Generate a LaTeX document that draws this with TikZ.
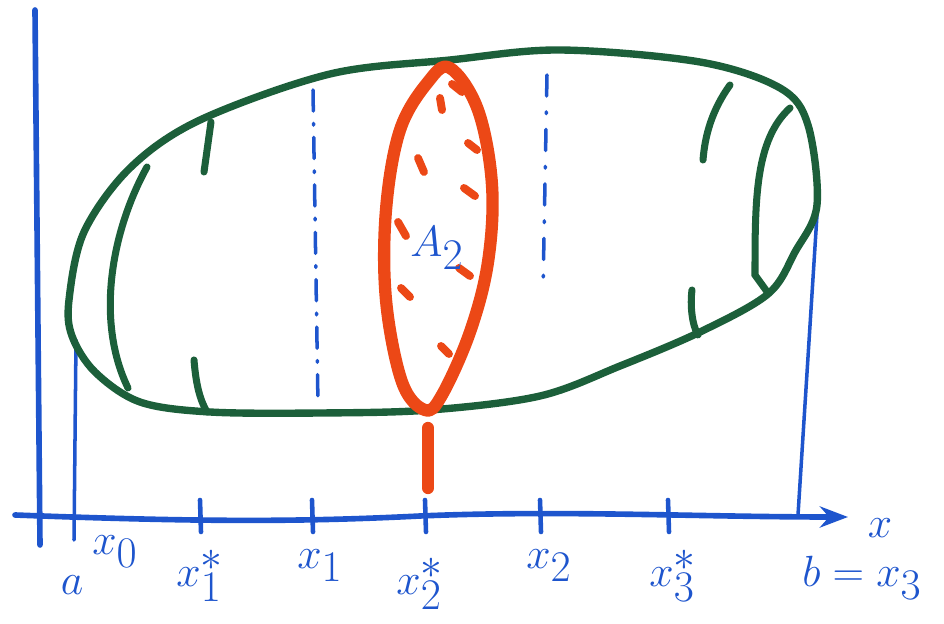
\documentclass[tikz,border=0pt]{standalone}
\usetikzlibrary{arrows.meta}
\definecolor{pen}{RGB}{30,85,205}
\definecolor{leaf}{RGB}{28,95,58}
\definecolor{flame}{RGB}{236,72,22}
\tikzset{
  outline/.style={draw=leaf,line width=4.2pt,line cap=round,line join=round},
  hidden/.style={draw=leaf,line width=4pt,line cap=round},
  slice/.style={draw=flame,line width=7pt,line cap=round,line join=round},
  hatch/.style={draw=flame,line width=4.5pt,line cap=round},
  axis/.style={draw=pen,line width=3.2pt,line cap=round},
  thin/.style={draw=pen,line width=2pt,line cap=round},
  tick/.style={draw=pen,line width=2.6pt,line cap=round},
  lbl/.style={text=pen,font=\fontsize{34}{38}\selectfont,inner sep=0pt}
}
\begin{document}
\begin{tikzpicture}[x=0.02cm,y=-0.02cm]
\useasboundingbox (0,0) rectangle (944,624);
% axes
\draw[axis] (35,10) -- (40,545);
\draw[axis,-{Stealth[length=16pt,width=12pt]}] (15,515) .. controls (200,522) and (300,522) .. (420,516) .. controls (560,510) and (700,517) .. (848,517);
% a and b verticals
\draw[thin] (76,340) -- (74,540);
\draw[thin] (817,215) -- (798,515);
% ticks
\foreach \x in {200,312,425,540,668} \draw[tick] (\x,500) -- (\x+1,532);
% green outline
\draw[outline] plot[smooth cycle,tension=0.55] coordinates {
 (69,300) (84,232) (130,168) (200,120) (330,74) (450,60) (560,50) (700,62) (780,88)
 (808,125) (817,205) (795,252) (768,294) (700,332) (620,366) (540,396) (430,410)
 (320,413) (210,412) (140,402) (95,372) (72,336)};
% hidden curves
\draw[hidden] (147,167) .. controls (112,230) and (95,320) .. (128,388);
\draw[hidden] (211,122) -- (204,172);
\draw[hidden] (194,360) .. controls (196,385) and (200,400) .. (207,412);
\draw[hidden] (790,108) .. controls (755,140) and (755,200) .. (755,275) -- (768,293);
\draw[hidden] (730,85) .. controls (712,110) and (705,135) .. (703,160);
\draw[hidden] (692,290) .. controls (690,305) and (692,325) .. (698,335);
% dashed dividers
\draw[thin,dash pattern=on 12pt off 7pt on 1pt off 7pt] (313,90) -- (318,405);
\draw[thin,dash pattern=on 12pt off 9pt on 1pt off 9pt] (547,75) -- (543,290);
% red slice
\draw[slice] plot[smooth cycle,tension=0.6] coordinates {
 (450,68) (478,110) (492,185) (488,262) (470,332) (442,395) (425,410)
 (402,382) (386,300) (386,210) (400,130) (428,82)};
\draw[slice] (428,428) -- (428,488);
\draw[hatch] (452,84) -- (462,92);
\draw[hatch] (440,98) -- (442,110);
\draw[hatch] (468,143) -- (477,150);
\draw[hatch] (418,158) -- (424,172);
\draw[hatch] (464,188) -- (475,196);
\draw[hatch] (398,222) -- (406,236);
\draw[hatch] (459,268) -- (470,276);
\draw[hatch] (401,288) -- (410,297);
\draw[hatch] (441,346) -- (449,354);
\node[lbl] (A) at (437,248) {$A_2$};
% labels
\node[lbl] (xaxis) at (880,528) {$x$};
\node[lbl] (a) at (72,585) {$a$};
\node[lbl] (x0) at (115,552) {$x_0$};
\node[lbl] (x1s) at (200,576) {$x_1^*$};
\node[lbl] (x1) at (320,566) {$x_1$};
\node[lbl] (x2s) at (420,584) {$x_2^*$};
\node[lbl] (x2) at (549,566) {$x_2$};
\node[lbl] (x3s) at (673,576) {$x_3^*$};
\node[lbl] (b) at (862,578) {$b=x_3$};
\end{tikzpicture}
\end{document}
